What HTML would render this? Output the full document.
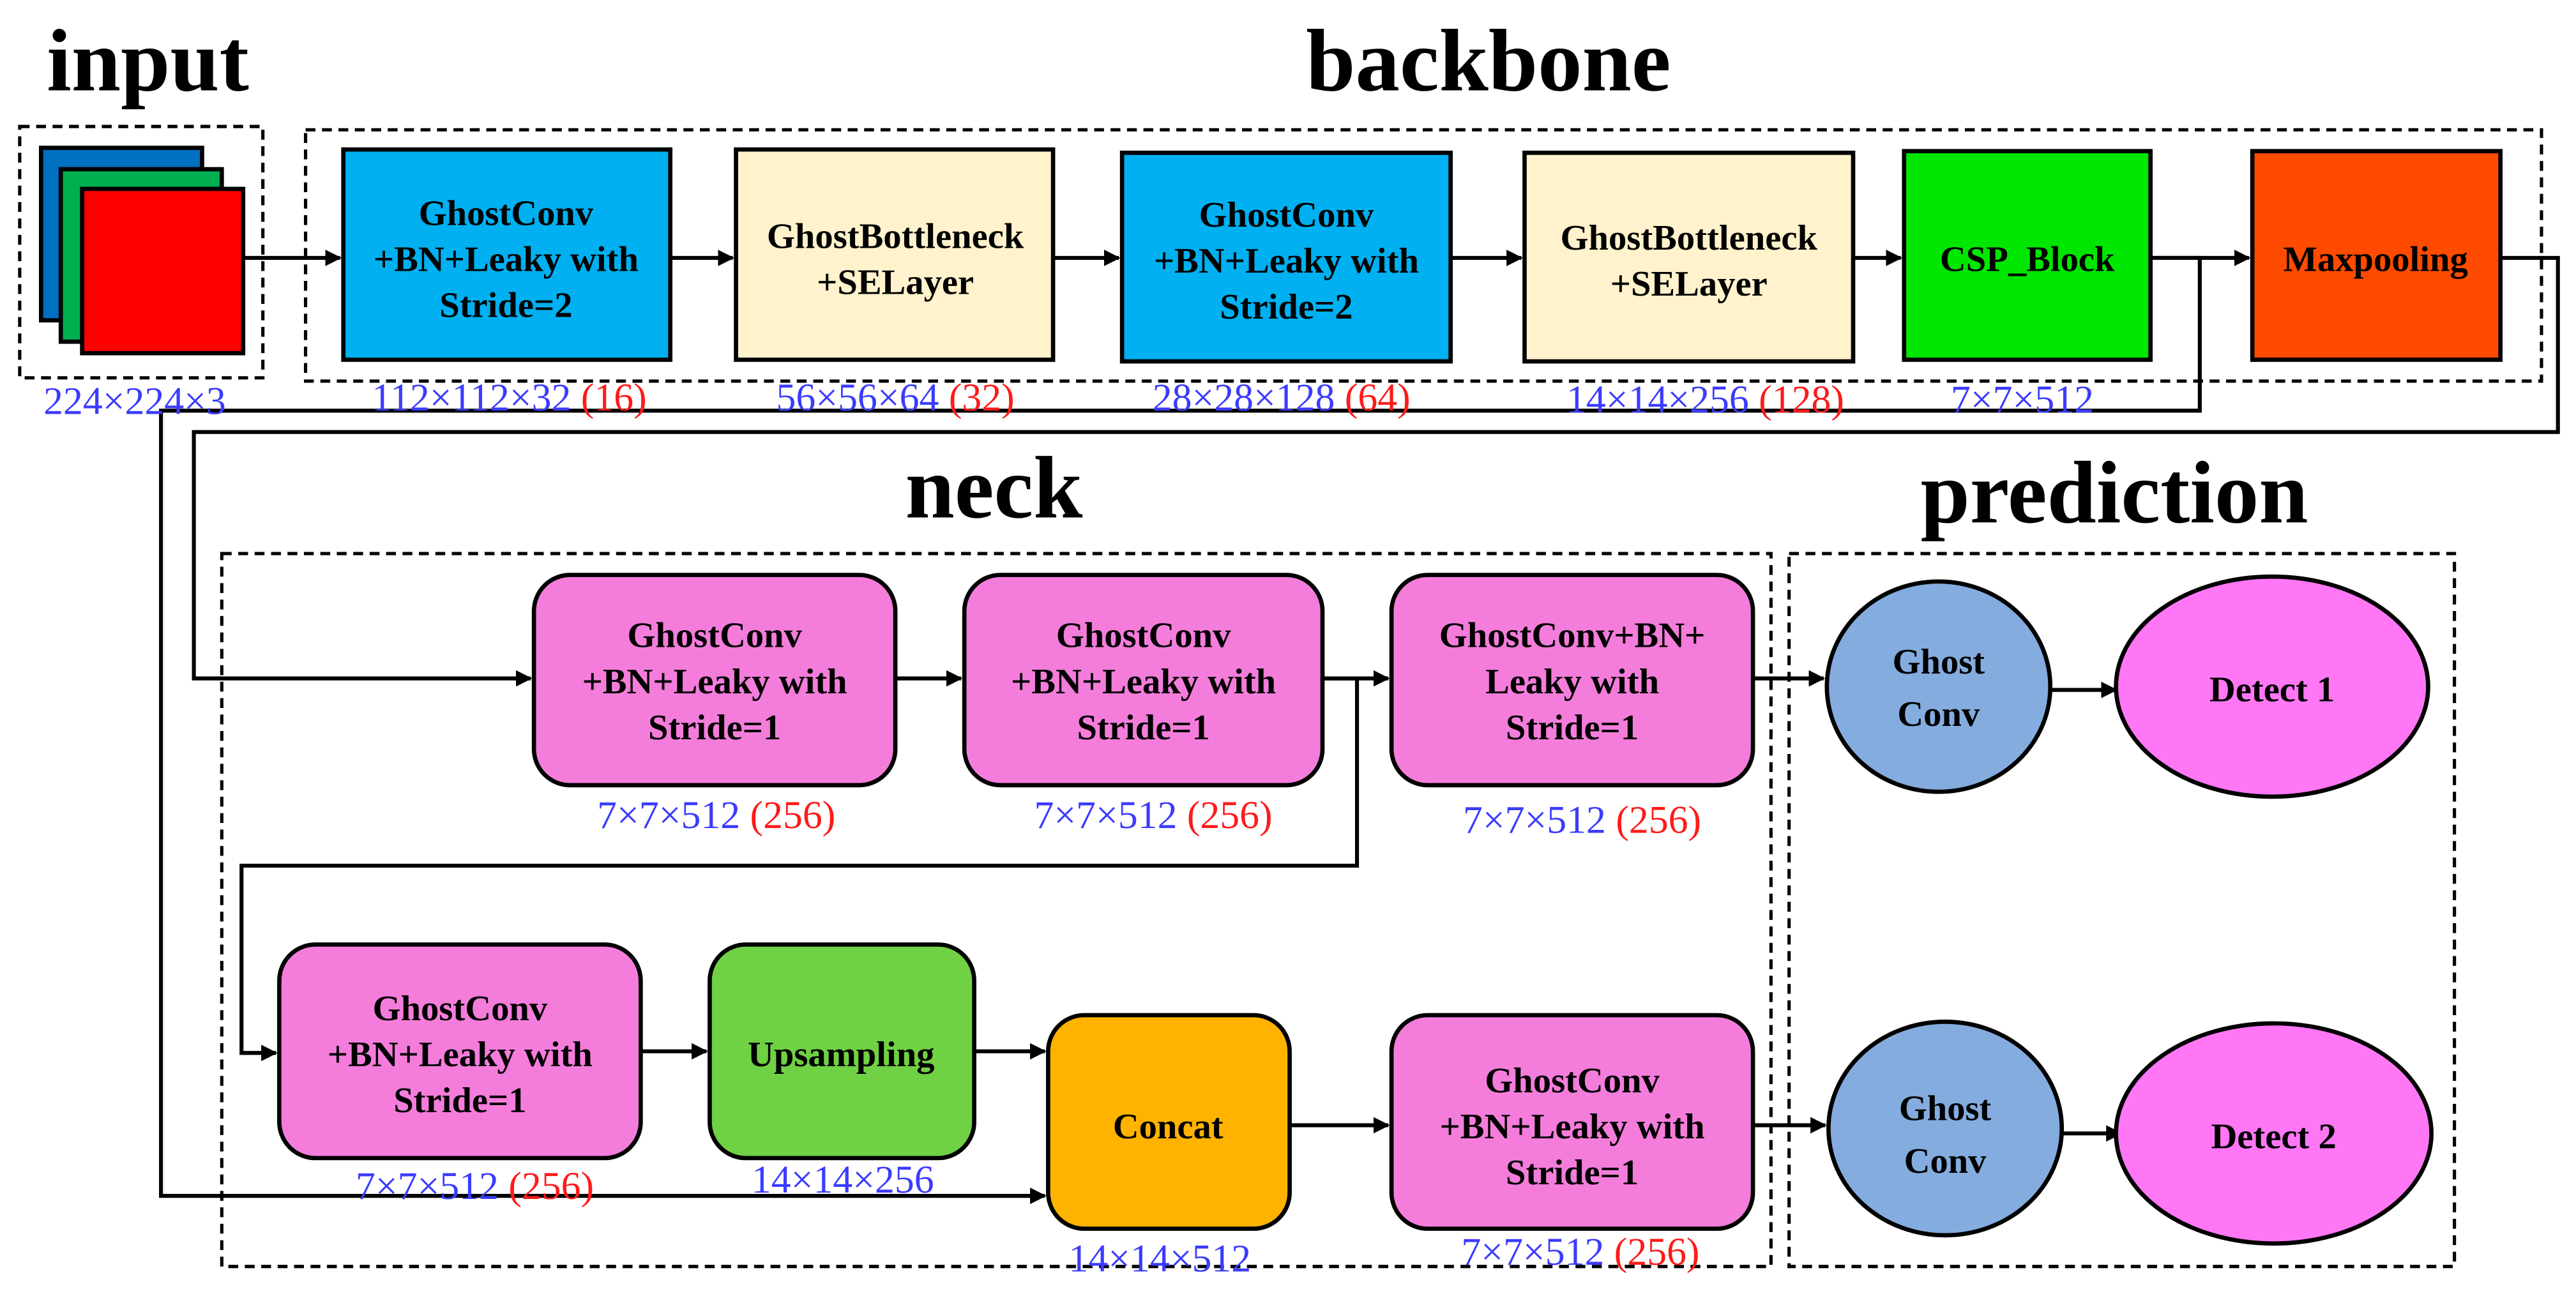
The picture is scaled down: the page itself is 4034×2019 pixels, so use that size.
<!DOCTYPE html>
<html><head><meta charset="utf-8"><style>
html,body{margin:0;padding:0;background:#fff;}
svg{display:block;}
text{font-family:"Liberation Serif",serif;}
.t{font-weight:bold;font-size:22px;text-anchor:middle;fill:#000;}
.h{font-weight:bold;font-size:54px;text-anchor:middle;fill:#000;}
.l{font-size:24px;text-anchor:middle;fill:#3b3bff;}
.r{fill:#ff1a1a;}
.bx{stroke:#000;stroke-width:2.6;}
.ds{fill:none;stroke:#000;stroke-width:2;stroke-dasharray:6,4;}
.ln{fill:none;stroke:#000;stroke-width:2.4;}
</style></head><body>
<svg width="4034" height="2019" viewBox="0 0 1568 784.7" preserveAspectRatio="none" xmlns="http://www.w3.org/2000/svg">
<defs><marker id="a" markerWidth="10" markerHeight="10" refX="9" refY="5" orient="auto" markerUnits="userSpaceOnUse"><path d="M0,0 L10,5 L0,10 z" fill="#000"/></marker></defs>
<rect width="1568" height="785" fill="#fff"/>
<text class="h" x="90" y="55">input</text>
<text class="h" x="906" y="55">backbone</text>
<text class="h" x="605" y="315">neck</text>
<text class="h" x="1287" y="318">prediction</text>
<rect class="ds" x="12" y="77" width="148" height="153"/>
<rect class="ds" x="186" y="79" width="1361" height="153"/>
<rect class="ds" x="135" y="337" width="943" height="434"/>
<rect class="ds" x="1089" y="337" width="405" height="434"/>
<rect class="bx" x="25" y="90" width="98" height="105" fill="#0070c0"/>
<rect class="bx" x="37" y="103" width="98" height="105" fill="#00b050"/>
<rect class="bx" x="50" y="115" width="98" height="100" fill="#ff0000"/>
<polyline class="ln" points="1309,157 1339,157 1339,250 98,250 98,728 636,728" marker-end="url(#a)"/>
<polyline class="ln" points="1522,157 1557,157 1557,263 118,263 118,413 323,413" marker-end="url(#a)"/>
<polyline class="ln" points="805,413 826,413 826,527 147,527 147,641 168,641"  marker-end="url(#a)"/>
<line class="ln" x1="148" y1="157" x2="207" y2="157" marker-end="url(#a)"/>
<line class="ln" x1="408" y1="157" x2="446" y2="157" marker-end="url(#a)"/>
<line class="ln" x1="641" y1="157" x2="681" y2="157" marker-end="url(#a)"/>
<line class="ln" x1="883" y1="157" x2="926" y2="157" marker-end="url(#a)"/>
<line class="ln" x1="1128" y1="157" x2="1157" y2="157" marker-end="url(#a)"/>
<line class="ln" x1="1309" y1="157" x2="1369" y2="157" marker-end="url(#a)"/>
<line class="ln" x1="545" y1="413" x2="585" y2="413" marker-end="url(#a)"/>
<line class="ln" x1="805" y1="413" x2="845" y2="413" marker-end="url(#a)"/>
<line class="ln" x1="1067" y1="413" x2="1110" y2="413" marker-end="url(#a)"/>
<line class="ln" x1="1248" y1="420" x2="1288" y2="420" marker-end="url(#a)"/>
<line class="ln" x1="390" y1="640" x2="430" y2="640" marker-end="url(#a)"/>
<line class="ln" x1="593" y1="640" x2="636" y2="640" marker-end="url(#a)"/>
<line class="ln" x1="785" y1="685" x2="845" y2="685" marker-end="url(#a)"/>
<line class="ln" x1="1067" y1="685" x2="1111" y2="685" marker-end="url(#a)"/>
<line class="ln" x1="1255" y1="690" x2="1291" y2="690" marker-end="url(#a)"/>
<rect class="bx" x="209" y="91" width="199" height="128" fill="#00b0f0"/>
<text class="t" x="308" y="137">GhostConv</text><text class="t" x="308" y="165">+BN+Leaky with</text><text class="t" x="308" y="193">Stride=2</text>
<rect class="bx" x="448" y="91" width="193" height="128" fill="#fff2cc"/>
<text class="t" x="545" y="151">GhostBottleneck</text><text class="t" x="545" y="179">+SELayer</text>
<rect class="bx" x="683" y="93" width="200" height="127" fill="#00b0f0"/>
<text class="t" x="783" y="138">GhostConv</text><text class="t" x="783" y="166">+BN+Leaky with</text><text class="t" x="783" y="194">Stride=2</text>
<rect class="bx" x="928" y="93" width="200" height="127" fill="#fff2cc"/>
<text class="t" x="1028" y="152">GhostBottleneck</text><text class="t" x="1028" y="180">+SELayer</text>
<rect class="bx" x="1159" y="92" width="150" height="127" fill="#00e600"/>
<text class="t" x="1234" y="165">CSP_Block</text>
<rect class="bx" x="1371" y="92" width="151" height="127" fill="#ff4b00"/>
<text class="t" x="1446" y="165">Maxpooling</text>
<text class="l" x="82" y="252">224×224×3</text>
<text class="l" x="310" y="250">112×112×32 <tspan class="r">(16)</tspan></text>
<text class="l" x="545" y="250">56×56×64 <tspan class="r">(32)</tspan></text>
<text class="l" x="780" y="250">28×28×128 <tspan class="r">(64)</tspan></text>
<text class="l" x="1038" y="251">14×14×256 <tspan class="r">(128)</tspan></text>
<text class="l" x="1231" y="251">7×7×512</text>
<rect class="bx" x="325" y="350" width="220" height="128" rx="22" fill="#f47ddb"/>
<text class="t" x="435" y="394">GhostConv</text><text class="t" x="435" y="422">+BN+Leaky with</text><text class="t" x="435" y="450">Stride=1</text>
<rect class="bx" x="587" y="350" width="218" height="128" rx="22" fill="#f47ddb"/>
<text class="t" x="696" y="394">GhostConv</text><text class="t" x="696" y="422">+BN+Leaky with</text><text class="t" x="696" y="450">Stride=1</text>
<rect class="bx" x="847" y="350" width="220" height="128" rx="22" fill="#f47ddb"/>
<text class="t" x="957" y="394">GhostConv+BN+</text><text class="t" x="957" y="422">Leaky with</text><text class="t" x="957" y="450">Stride=1</text>
<text class="l" x="436" y="504">7×7×512 <tspan class="r">(256)</tspan></text>
<text class="l" x="702" y="504">7×7×512 <tspan class="r">(256)</tspan></text>
<text class="l" x="963" y="507">7×7×512 <tspan class="r">(256)</tspan></text>
<rect class="bx" x="170" y="575" width="220" height="130" rx="22" fill="#f47ddb"/>
<text class="t" x="280" y="621">GhostConv</text><text class="t" x="280" y="649">+BN+Leaky with</text><text class="t" x="280" y="677">Stride=1</text>
<rect class="bx" x="432" y="575" width="161" height="130" rx="22" fill="#6fd143"/>
<text class="t" x="512" y="649">Upsampling</text>
<rect class="bx" x="638" y="618" width="147" height="130" rx="22" fill="#ffb300"/>
<text class="t" x="711" y="693">Concat</text>
<rect class="bx" x="847" y="618" width="220" height="130" rx="22" fill="#f47ddb"/>
<text class="t" x="957" y="665">GhostConv</text><text class="t" x="957" y="693">+BN+Leaky with</text><text class="t" x="957" y="721">Stride=1</text>
<text class="l" x="289" y="730">7×7×512 <tspan class="r">(256)</tspan></text>
<text class="l" x="513" y="726">14×14×256</text>
<text class="l" x="706" y="774">14×14×512</text>
<text class="l" x="962" y="770">7×7×512 <tspan class="r">(256)</tspan></text>
<ellipse class="bx" cx="1180" cy="418" rx="68" ry="64" fill="#84acdf" stroke-width="3"/>
<text class="t" x="1180" y="410">Ghost</text><text class="t" x="1180" y="442">Conv</text>
<ellipse class="bx" cx="1383" cy="418" rx="95" ry="67" fill="#ff77f5" stroke-width="3"/>
<text class="t" x="1383" y="427">Detect 1</text>
<ellipse class="bx" cx="1184" cy="687" rx="71" ry="65" fill="#84acdf" stroke-width="3"/>
<text class="t" x="1184" y="682">Ghost</text><text class="t" x="1184" y="714">Conv</text>
<ellipse class="bx" cx="1384" cy="690" rx="96" ry="67" fill="#ff77f5" stroke-width="3"/>
<text class="t" x="1384" y="699">Detect 2</text>
</svg>
</body></html>
